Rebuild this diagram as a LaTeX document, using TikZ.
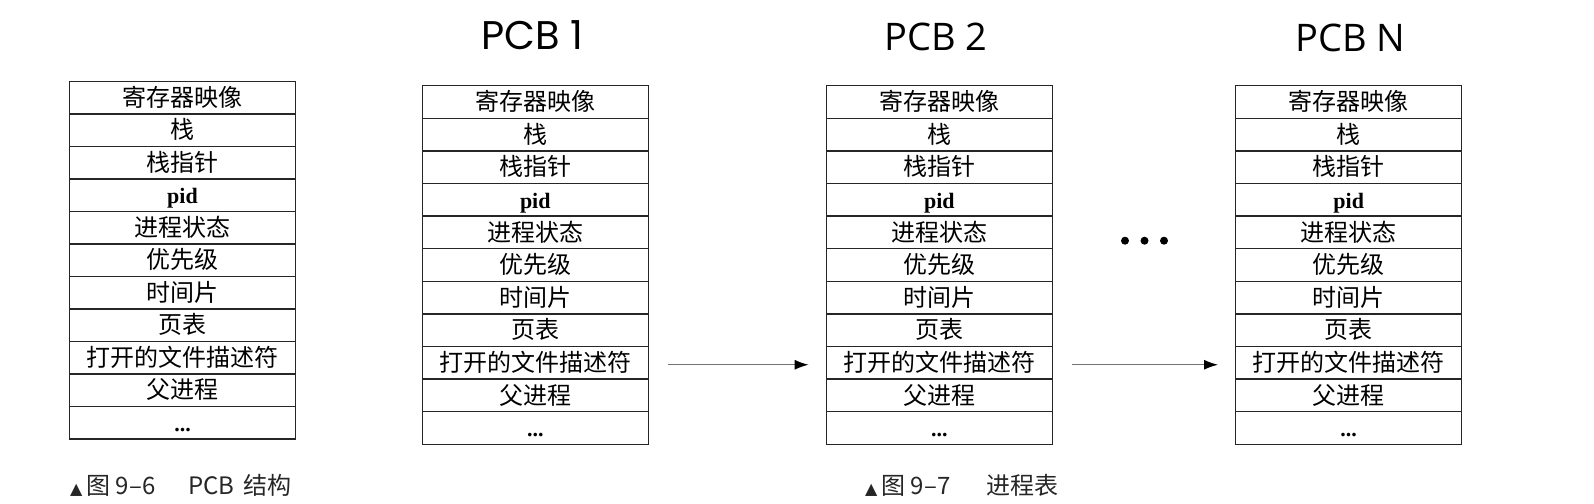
\documentclass[tikz,border=0pt]{standalone}
\usepackage{fontspec}
\usetikzlibrary{arrows.meta}
\setmainfont{Liberation Serif}
\newfontfamily\cjk{Noto Sans CJK SC}
\newfontfamily\latf{Liberation Serif}
\newfontfamily\titA{Poppins}
\newfontfamily\titB{Open Sans}
\newfontfamily\symf{DejaVu Sans}
\newcommand\lat[1]{{\latf\bfseries\fontsize{22}{22}\selectfont #1}}
\tikzset{
  cell/.style={draw=black!85, line width=1.3pt, minimum width=226pt, minimum height=32.6pt,
    inner sep=0pt, anchor=north, text height=20pt, text depth=2.5pt,
    font=\cjk\fontsize{24}{24}\selectfont},
  ttl/.style={anchor=base, inner sep=0pt},
  capt/.style={anchor=base west, inner sep=0pt, text=black!85, font=\cjk\fontsize{24}{24}\selectfont},
  arr/.style={draw=black!55, line width=1.3pt, -{Latex[length=14pt,width=10pt,black]}, shorten <=19pt, shorten >=17pt},
  dotfill/.style={fill=black}
}
\newcommand\pcbtable[4]{% name prefix, center x, top y, row height
  \foreach \t [count=\i] in {寄存器映像,栈,栈指针,\lat{pid},进程状态,优先级,时间片,页表,打开的文件描述符,父进程,\lat{...}}{
    \node[cell, minimum height=#4] (#1r\i) at (#2, {#3+(\i-1)*#4}) {\t};
  }
}
\newcommand\tri{{\symf\fontsize{16}{16}\selectfont ▲}\hspace{4pt}}
\begin{document}
\begin{tikzpicture}[x=1pt,y=-1pt]
\useasboundingbox (0,0) rectangle (1594,503);
\pcbtable{a}{182.5}{80.7}{32.5}
\pcbtable{b}{535.3}{85}{32.6}
\pcbtable{c}{939.3}{85}{32.6}
\pcbtable{d}{1348.7}{85}{32.6}
\node[ttl, font=\titA\fontsize{40}{40}\selectfont] (t1) at (532.3,50) {PCB 1};
\node[ttl, font=\titB\fontsize{38}{38}\selectfont] (t2) at (936,50.7) {PCB 2};
\node[ttl, font=\titB\fontsize{38}{38}\selectfont] (t3) at (1350.5,52) {PCB N};
\draw[arr] ([yshift=-2pt]br9.east) -- ([yshift=-2pt]cr9.west);
\draw[arr] ([yshift=-2pt]cr9.east) -- ([yshift=-2pt]dr9.west);
\fill[dotfill] (1125,240.7) circle (4);
\fill[dotfill] (1144.5,240.7) circle (4);
\fill[dotfill] (1164,240.7) circle (4);
\node[capt] (c1) at (70,494) {\tri 图 9–6\hspace{33pt}PCB\hspace{9pt}结构};
\node[capt] (c2) at (865,494) {\tri 图 9–7\hspace{36pt}进程表};
\end{tikzpicture}
\end{document}
